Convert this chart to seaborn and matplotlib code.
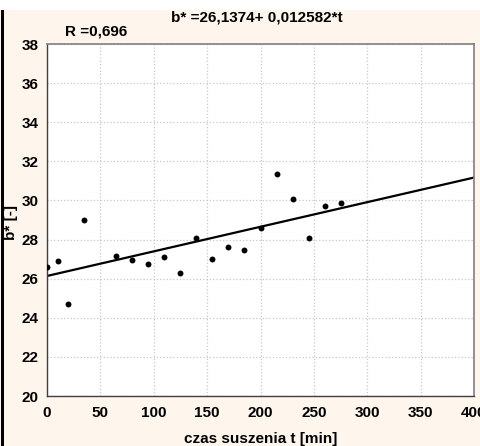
import matplotlib
matplotlib.use("Agg")
import matplotlib.pyplot as plt
import matplotlib.patches as mpatches
import numpy as np
import pandas as pd
import seaborn as sns

t_min = [0, 10, 20, 35, 65, 80, 95, 110, 125, 140, 155, 170, 185, 200, 215, 230, 245, 260, 275]
b_star = [26.62, 26.92, 24.71, 28.98, 27.14, 26.97, 26.74, 27.09, 26.28, 28.10, 26.99, 27.62,
          27.45, 28.60, 31.35, 30.07, 28.10, 29.74, 29.86]
intercept = 26.1374
slope = 0.012582
x_ticks = [0, 50, 100, 150, 200, 250, 300, 350, 400]
y_ticks = [20, 22, 24, 26, 28, 30, 32, 34, 36, 38]

sns.set_theme(style="white")
plt.rcParams['font.family'] = ['Liberation Sans Narrow', 'Liberation Sans', 'DejaVu Sans']
plt.rcParams['text.color'] = 'black'
plt.rcParams['axes.labelcolor'] = 'black'
plt.rcParams['xtick.color'] = 'black'
plt.rcParams['ytick.color'] = 'black'

bg = '#FEF6EC'
fig = plt.figure(figsize=(4.81, 4.46), dpi=100, facecolor=bg)
W, H = 481, 446
ax = fig.add_axes([47 / W, 1 - 396 / H, (474 - 47) / W, (396 - 44) / H])
ax.set_facecolor('white')

# figure decorations: white top strip and black left bar
fig.patches.append(mpatches.Rectangle((0, 1 - 10 / H), 1, 10 / H, transform=fig.transFigure,
                                      facecolor='white', edgecolor='none', zorder=0))
fig.patches.append(mpatches.Rectangle((1 / W, 0), 3 / W, 1 - 10 / H, transform=fig.transFigure,
                                      facecolor='black', edgecolor='none', zorder=0))

df = pd.DataFrame({'t': t_min, 'b': b_star})
sns.scatterplot(data=df, x='t', y='b', ax=ax, color='black', s=18, edgecolor='black',
                linewidth=0, zorder=3)
line_t = np.array([x_ticks[0], x_ticks[-1]])
sns.lineplot(x=line_t, y=intercept + slope * line_t, ax=ax, color='black', linewidth=1.6, zorder=2)

ax.set_xlim(0, 400)
ax.set_ylim(20, 38)
ax.set_xticks(x_ticks)
ax.set_yticks(y_ticks)
ax.set_xticklabels([str(v) for v in x_ticks], fontsize=11, fontweight='bold')
ax.set_yticklabels([str(v) for v in y_ticks], fontsize=11, fontweight='bold')
ax.tick_params(axis='y', direction='out', length=4, width=0.8, color='#555555', pad=2)
ax.tick_params(axis='x', length=0, pad=7)
ax.grid(True, color='#C8C8C8', linestyle=':', linewidth=0.9)
for side in ['left', 'bottom']:
    ax.spines[side].set_color('#404040')
    ax.spines[side].set_linewidth(1.0)
for side in ['top', 'right']:
    ax.spines[side].set_color('#808080')
    ax.spines[side].set_linewidth(1.2)

ax.set_xlabel('czas suszenia t [min]', fontsize=11, fontweight='bold')
ax.set_ylabel('b* [-]', fontsize=11, fontweight='bold')
ax.xaxis.set_label_coords(0.5, -(432 - 396) / 352)
ax.yaxis.set_label_coords((18 - 47) / 427, (396 - 222) / 352)

fig.text(65 / W, 1 - 31 / H, 'R =0,696', fontsize=11, fontweight='bold', va='center', ha='left')
fig.text(257 / W, 1 - 18 / H, 'b* =26,1374+ 0,012582*t', fontsize=11, fontweight='bold',
         va='center', ha='center')

fig.savefig('out.png', dpi=100, facecolor=bg)
